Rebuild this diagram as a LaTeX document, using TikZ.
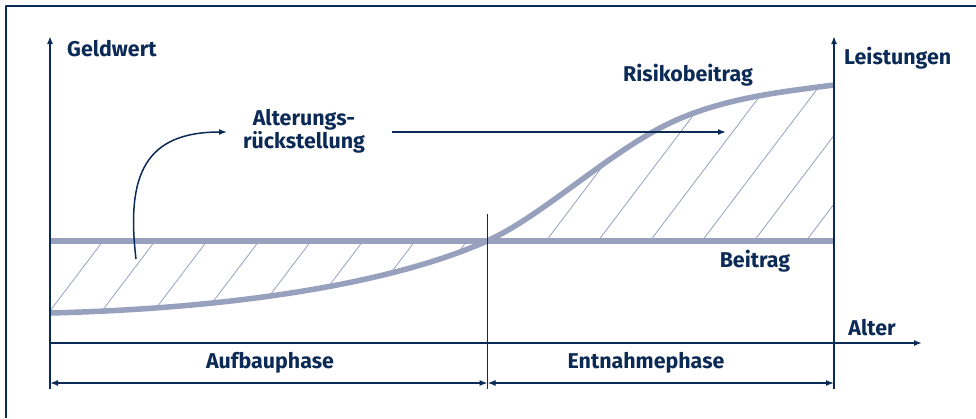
\documentclass[tikz,border=0pt]{standalone}
\usepackage{fontspec}
\setmainfont{Fira Sans}
\usetikzlibrary{arrows.meta}
\definecolor{navy}{RGB}{11,42,85}
\definecolor{curvegray}{RGB}{151,160,189}
\tikzset{>={Latex[length=8pt,width=6pt]}}
\tikzset{every text node part/.style={align=center}}
\tikzset{label/.style={text=navy, font=\bfseries\fontsize{21.4}{23}\selectfont, inner sep=0pt}}
\tikzset{axis/.style={draw=navy, line width=1.8pt}}
\tikzset{dim/.style={draw=navy, line width=1.5pt, <->}}
\tikzset{money/.style={draw=curvegray, line width=5.5pt}}
\tikzset{hatch/.style={draw=curvegray, line width=0.8pt}}
\newcommand{\hatchlines}[1]{%
	\foreach \xx in {#1}
	{
		\draw[hatch] (\xx-80/1.32, 321) -- (\xx+180/1.32, 61);
	}
}
\newcommand{\lowcurve}{(50,313) .. controls (250,308) and (400,280) .. (487,241)}
\newcommand{\highcurve}{(487,241) .. controls (540,217) and (600,160) .. (660,128) .. controls (715,98.7) and (780,92) .. (834,85)}

\begin{document}
\begin{tikzpicture}[x=1pt, y=-1pt, line cap=butt, line join=round]
	\useasboundingbox (0,0) rectangle (976,418);

	% Frame
	\draw[navy, line width=1.5pt] (6,418) -- (6,6) -- (976,6);

	% Hatching
	\begin{scope}
		\clip \lowcurve -- (50,241) -- cycle;
		\hatchlines{103,155,...,470}
	\end{scope}
	\begin{scope}
		\clip \highcurve -- (834,241) -- cycle;
		\hatchlines{546,598,...,860}
	\end{scope}

	% Beitrag and Leistungen
	\draw[money] (50,241) -- (834,241);
	\draw[money] \lowcurve;
	\draw[money] \highcurve;

	% Axes
	\coordinate (o) at (50,343);
	\coordinate (lbot) at (50,389);
	\coordinate (ltop) at (50,36);
	\coordinate (rbot) at (834,389);
	\coordinate (rtop) at (834,36);
	\coordinate (alterend) at (922,343);
	\coordinate (mbot) at (487.5,389);
	\coordinate (mtop) at (487.5,214);
	\draw[axis, ->] (lbot) -- (ltop);
	\draw[axis, ->] (rbot) -- (rtop);
	\draw[axis, ->] (o) -- (alterend);
	\draw[axis] (mbot) -- (mtop);

	% Phases
	\coordinate (da) at (50,383);
	\coordinate (db) at (487.5,383);
	\coordinate (dc) at (834,383);
	\draw[dim] (da) -- (db);
	\draw[dim] (db) -- (dc);

	% Nodes
	\node[label, anchor=west] (geldwert) at (67,49) {Geldwert};
	\node[label, anchor=west] (leistungen) at (844,58) {Leistungen};
	\node[label] (risiko) at (688,75) {Risikobeitrag};
	\node[label] (rueck) at (304,131) {Alterungs-\\rückstellung};
	\node[label] (beitrag) at (755,261) {Beitrag};
	\node[label] (alter) at (872,328) {Alter};
	\node[label] (aufbau) at (270,363) {Aufbauphase};
	\node[label] (entnahme) at (646,363) {Entnahmephase};

	% Arrows to Alterungsrueckstellung
	\coordinate (bogenstart) at (136,259);
	\coordinate (bogenend) at (227,132);
	\coordinate (pfeilstart) at (392,132);
	\coordinate (pfeilend) at (726,132);
	\draw[navy, line width=1.5pt, ->] (bogenstart) .. controls (126,175) and (145,132) .. (bogenend);
	\draw[navy, line width=1.5pt, ->] (pfeilstart) -- (pfeilend);
\end{tikzpicture}
\end{document}
